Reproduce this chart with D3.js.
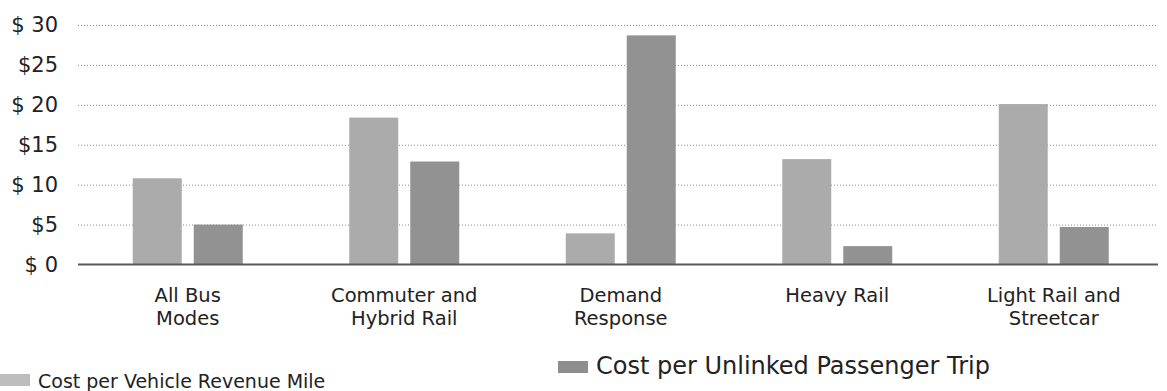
<!DOCTYPE html>
<html>
<head>
<meta charset="utf-8">
<script src="https://cdn.jsdelivr.net/npm/d3@7"></script>
<style>
  body { margin: 0; background: #fff; }
  #chart { width: 1167px; height: 391px; }
  text { font-family: "DejaVu Sans", Verdana, sans-serif; fill: #222; }
</style>
</head>
<body>
<div id="chart"></div>
<script>
const categories = ["All Bus Modes", "Commuter and Hybrid Rail", "Demand Response", "Heavy Rail", "Light Rail and Streetcar"];
const categoryLines = [["All Bus", "Modes"], ["Commuter and", "Hybrid Rail"], ["Demand", "Response"], ["Heavy Rail"], ["Light Rail and", "Streetcar"]];
const seriesNames = ["Cost per Vehicle Revenue Mile", "Cost per Unlinked Passenger Trip"];
const costPerMile = [10.8, 18.4, 3.9, 13.2, 20.1];
const costPerTrip = [5.0, 12.9, 28.7, 2.3, 4.7];
const tickValues = [0, 5, 10, 15, 20, 25, 30];
const tickLabels = ["$ 0", "$5", "$ 10", "$15", "$ 20", "$25", "$ 30"];

const W = 1167, H = 391;
const colors = ["#ababab", "#929292"];
const swatchColors = ["#bdbdbd", "#8e8e8e"];

const svg = d3.select("#chart").append("svg")
  .attr("width", W)
  .attr("height", H);

const x0 = d3.scaleBand().domain(categories).range([79.5, 1162]).padding(0);
const bw = x0.bandwidth();
const x1 = d3.scaleBand().domain(seriesNames)
  .range([bw / 2 - 55, bw / 2 + 55])
  .paddingInner(0.1967).paddingOuter(0);
const y = d3.scaleLinear().domain([0, 30]).range([264.5, 25]);

// dotted grid
svg.append("g")
  .attr("transform", "translate(78,0)")
  .call(d3.axisLeft(y).tickValues(tickValues.slice(1)).tickSize(-1080).tickFormat(""))
  .call(g => g.select(".domain").remove())
  .call(g => g.selectAll("line")
    .attr("stroke", "#8a8a8a")
    .attr("stroke-dasharray", "1,2"));

// tick labels
svg.append("g")
  .attr("transform", "translate(80,0)")
  .call(d3.axisLeft(y).tickValues(tickValues).tickSize(0).tickPadding(22)
    .tickFormat((d, i) => tickLabels[i]))
  .call(g => g.select(".domain").remove())
  .call(g => g.selectAll("text")
    .attr("font-size", "21px")
    .attr("font-family", "'DejaVu Sans', Verdana, sans-serif")
    .attr("fill", "#222"));

const rows = categories.map((c, i) => ({ cat: c, values: [costPerMile[i], costPerTrip[i]] }));

const groups = svg.append("g").selectAll("g")
  .data(rows)
  .join("g")
  .attr("transform", d => `translate(${x0(d.cat)},0)`);

groups.selectAll("rect")
  .data(d => d.values.map((v, j) => ({ key: seriesNames[j], value: v, j })))
  .join("rect")
  .attr("x", d => x1(d.key))
  .attr("width", x1.bandwidth())
  .attr("y", d => y(d.value))
  .attr("height", d => y(0) - y(d.value))
  .attr("fill", d => colors[d.j]);

// baseline
svg.append("line")
  .attr("x1", 78).attr("x2", 1158)
  .attr("y1", y(0)).attr("y2", y(0))
  .attr("stroke", "#5a5a5a")
  .attr("stroke-width", 2);

// category labels, one text per line
const labelLines = categoryLines.flatMap((lines, i) =>
  lines.map((t, k) => ({ t, k, cx: x0(categories[i]) + bw / 2 })));

svg.append("g").selectAll("text")
  .data(labelLines)
  .join("text")
  .attr("text-anchor", "middle")
  .attr("font-size", "19.5px")
  .attr("x", d => d.cx)
  .attr("y", d => 302 + d.k * 23)
  .text(d => d.t);

// legend
const legendPos = [
  { x: 0, sy: 374, ty: 388, size: 19 },
  { x: 558, sy: 361, ty: 374, size: 24 }
];
const legend = svg.append("g").selectAll("g")
  .data(seriesNames)
  .join("g");

legend.append("rect")
  .attr("x", (d, i) => legendPos[i].x)
  .attr("y", (d, i) => legendPos[i].sy)
  .attr("width", 30)
  .attr("height", 12)
  .attr("fill", (d, i) => swatchColors[i]);

legend.append("text")
  .attr("x", (d, i) => legendPos[i].x + 38)
  .attr("y", (d, i) => legendPos[i].ty)
  .attr("font-size", (d, i) => legendPos[i].size + "px")
  .text(d => d);
</script>
</body>
</html>
